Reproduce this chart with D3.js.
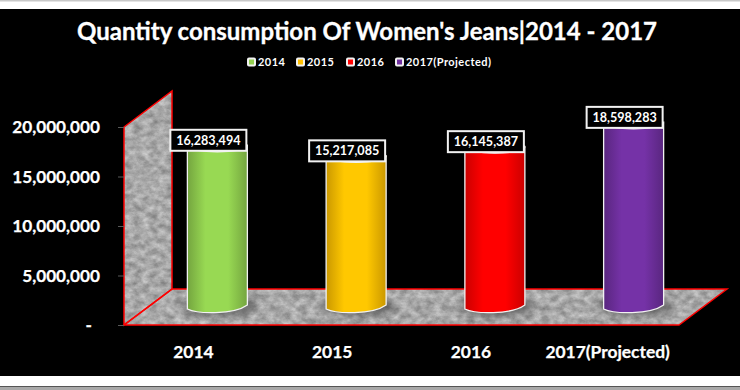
<!DOCTYPE html>
<html>
<head>
<meta charset="utf-8">
<script src="https://cdn.jsdelivr.net/npm/d3@7"></script>
<style>
  html, body { margin: 0; padding: 0; background: #fff; }
  svg { display: block; }
  text { font-family: Lato, "Open Sans", sans-serif; font-weight: 700; fill: #fff; }
</style>
</head>
<body>
<div id="chart"></div>
<script>
// Chart data
const categories = ["2014", "2015", "2016", "2017(Projected)"];
const values = [16283494, 15217085, 16145387, 18598283];
const colors = ["#92D050", "#FFC000", "#FF0000", "#7030A0"];
const tickValues = [0, 5000000, 10000000, 15000000, 20000000];
const chartTitle = "Quantity consumption Of Women's Jeans|2014 - 2017";

const width = 740;
const height = 390;

// 3D depth of the chart box
const depthX = 48;
const depthY = 36;
const barWidth = 60;

const svg = d3
  .select("#chart")
  .append("svg")
  .attr("width", width)
  .attr("height", height);

const defs = svg.append("defs");

// Marble texture for walls and floor
const marble = defs
  .append("filter")
  .attr("id", "marble")
  .attr("x", 0)
  .attr("y", 0)
  .attr("width", "100%")
  .attr("height", "100%")
  .attr("color-interpolation-filters", "sRGB");
marble
  .append("feTurbulence")
  .attr("type", "fractalNoise")
  .attr("baseFrequency", "0.12 0.16")
  .attr("numOctaves", 4)
  .attr("seed", 7)
  .attr("result", "noise");
marble
  .append("feColorMatrix")
  .attr("in", "noise")
  .attr("type", "matrix")
  .attr("values", "0.4 0 0 0 0.46  0.4 0 0 0 0.46  0.4 0 0 0 0.46  0 0 0 0 1")
  .attr("result", "grey");
marble
  .append("feComposite")
  .attr("in", "grey")
  .attr("in2", "SourceAlpha")
  .attr("operator", "in");

defs
  .append("filter")
  .attr("id", "blur")
  .attr("x", "-30%")
  .attr("y", "-60%")
  .attr("width", "160%")
  .attr("height", "220%")
  .append("feGaussianBlur")
  .attr("stdDeviation", 4);

// Cylinder shading, one gradient per series
colors.forEach((c, i) => {
  const grad = defs
    .append("linearGradient")
    .attr("id", `bar-${i}`)
    .attr("x1", 0)
    .attr("x2", 1)
    .attr("y1", 0)
    .attr("y2", 0);
  const dark = d3.color(c).darker(0.65);
  const light = d3.color(c).brighter(0.12);
  [
    [0, dark],
    [0.3, light],
    [0.68, light],
    [1, dark],
  ].forEach(([offset, col]) => {
    grad.append("stop").attr("offset", offset).attr("stop-color", col);
  });
});

// Black panel with the white and grey frame around it
svg.append("rect").attr("width", width).attr("height", height).attr("fill", "#fff");
svg.append("rect").attr("width", width).attr("height", 1.5).attr("fill", "#c8c8c8");
svg.append("rect").attr("y", 9).attr("width", width).attr("height", 367).attr("fill", "#000");
svg.append("rect").attr("y", 386).attr("width", width).attr("height", 1.5).attr("fill", "#555");
svg.append("rect").attr("y", 387.5).attr("width", width).attr("height", 2.5).attr("fill", "#a8a8a8");

// Scales
const xScale = d3.scaleBand().domain(categories).range([124, 679]);
const yScale = d3.scaleLinear().domain([0, 20000000]).range([325, 127]);

const x0 = xScale.range()[0];
const x1 = xScale.range()[1];
const y0 = yScale(0);
const yTop = yScale(20000000);

// Side wall and floor
const wallPoints = [
  [x0, y0],
  [x0, yTop],
  [x0 + depthX, yTop - depthY],
  [x0 + depthX, y0 - depthY],
];
const floorPoints = [
  [x0, y0],
  [x1, y0],
  [x1 + depthX, y0 - depthY],
  [x0 + depthX, y0 - depthY],
];

[wallPoints, floorPoints].forEach((points) => {
  svg
    .append("polygon")
    .attr("points", points.join(" "))
    .attr("filter", "url(#marble)");
});
[wallPoints, floorPoints].forEach((points) => {
  svg
    .append("polygon")
    .attr("points", points.join(" "))
    .attr("fill", "none")
    .attr("stroke", "#f00")
    .attr("stroke-width", 1.5);
});

// Y axis
const yAxis = svg
  .append("g")
  .attr("transform", `translate(${x0},0)`)
  .call(
    d3
      .axisLeft(yScale)
      .tickValues(tickValues)
      .tickSize(6)
      .tickPadding(18)
      .tickFormat((d) => (d === 0 ? "-" : d3.format(",")(d)))
  );
yAxis.select(".domain").remove();
yAxis.selectAll(".tick line").attr("stroke", "#595959");
yAxis
  .selectAll(".tick text")
  .attr("font-size", 17.2)
  .attr("font-family", null)
  .attr("stroke", "#fff")
  .attr("stroke-width", 0.25)
  .attr("dx", (d) => (d === 0 ? -8 : 0));

// X axis
const xAxis = svg
  .append("g")
  .attr("transform", `translate(0,${y0})`)
  .call(d3.axisBottom(xScale).tickSize(0).tickPadding(21));
xAxis.select(".domain").remove();
xAxis
  .selectAll(".tick text")
  .attr("font-size", 17.4)
  .attr("font-family", null)
  .attr("stroke", "#fff")
  .attr("stroke-width", 0.25)
  .attr("dx", (d, i) => (i === 3 ? -2 : 0));

// Each cylinder stands in the middle of the box depth
const barLeft = (d) =>
  xScale(d) + xScale.bandwidth() / 2 - barWidth / 2 + depthX / 2;

const barGroups = svg
  .selectAll(".bar")
  .data(categories.map((c, i) => ({ category: c, value: values[i], index: i })))
  .enter()
  .append("g")
  .attr("class", "bar");

// Shadow on the floor
barGroups
  .append("ellipse")
  .attr("cx", (d) => barLeft(d.category) + barWidth / 2 + 2)
  .attr("cy", y0 - depthY / 2 - 1)
  .attr("rx", barWidth / 2 + 7)
  .attr("ry", 9)
  .attr("fill", "#444")
  .attr("opacity", 0.75)
  .attr("filter", "url(#blur)");

// Cap of the cylinder, drawn first so the body covers its lower half
barGroups
  .append("ellipse")
  .attr("cx", (d) => barLeft(d.category) + barWidth / 2)
  .attr("cy", (d) => yScale(d.value) - depthY / 2)
  .attr("rx", barWidth / 2)
  .attr("ry", 6)
  .attr("fill", (d) => d3.color(colors[d.index]).darker(0.5))
  .attr("stroke", "#e8e8e8")
  .attr("stroke-width", 1.2);

// Body of the cylinder
barGroups
  .append("path")
  .attr("d", (d) => {
    const left = barLeft(d.category);
    const right = left + barWidth;
    const top = yScale(d.value) - depthY / 2;
    const base = y0 - depthY / 2;
    return [
      `M${left},${top}`,
      `C${left + 8},${top + 8} ${right - 8},${top + 8} ${right},${top}`,
      `L${right},${base - 2}`,
      `C${right - 14},${base + 8} ${left + 10},${base + 7} ${left},${base + 2}`,
      "Z",
    ].join(" ");
  })
  .attr("fill", (d) => `url(#bar-${d.index})`)
  .attr("stroke", "#f2f2f2")
  .attr("stroke-width", 1.3);

// Value labels
const labelWidth = 76;
const labelHeight = 21;
const labels = barGroups
  .append("g")
  .attr(
    "transform",
    (d) =>
      `translate(${barLeft(d.category) + barWidth / 2 - 9},${
        yScale(d.value) - depthY / 2 - 5.5
      })`
  );
labels
  .append("rect")
  .attr("x", -labelWidth / 2)
  .attr("y", -labelHeight / 2)
  .attr("width", labelWidth)
  .attr("height", labelHeight)
  .attr("fill", "#000")
  .attr("stroke", "#f2f2f2")
  .attr("stroke-width", 2);
labels
  .append("text")
  .attr("text-anchor", "middle")
  .attr("dy", "0.36em")
  .attr("font-size", 12.6)
  .text((d) => d3.format(",")(d.value));

// Title
svg
  .append("text")
  .attr("x", 367)
  .attr("y", 40)
  .attr("text-anchor", "middle")
  .attr("font-size", 24)
  .attr("stroke", "#fff")
  .attr("stroke-width", 0.3)
  .text(chartTitle);

// Legend
const legendX = [247, 296, 346, 395];
const legend = svg
  .selectAll(".legend")
  .data(categories)
  .enter()
  .append("g")
  .attr("class", "legend")
  .attr("transform", (d, i) => `translate(${legendX[i]},62)`);
legend
  .append("rect")
  .attr("x", 1)
  .attr("y", -3.5)
  .attr("width", 7)
  .attr("height", 7)
  .attr("rx", 1)
  .attr("fill", (d, i) => colors[i])
  .attr("stroke", "#f2f2f2")
  .attr("stroke-width", 2);
legend
  .append("text")
  .attr("x", 11)
  .attr("dy", "0.36em")
  .attr("font-size", 11)
  .attr("letter-spacing", 0.45)
  .text((d) => d);
</script>
</body>
</html>
